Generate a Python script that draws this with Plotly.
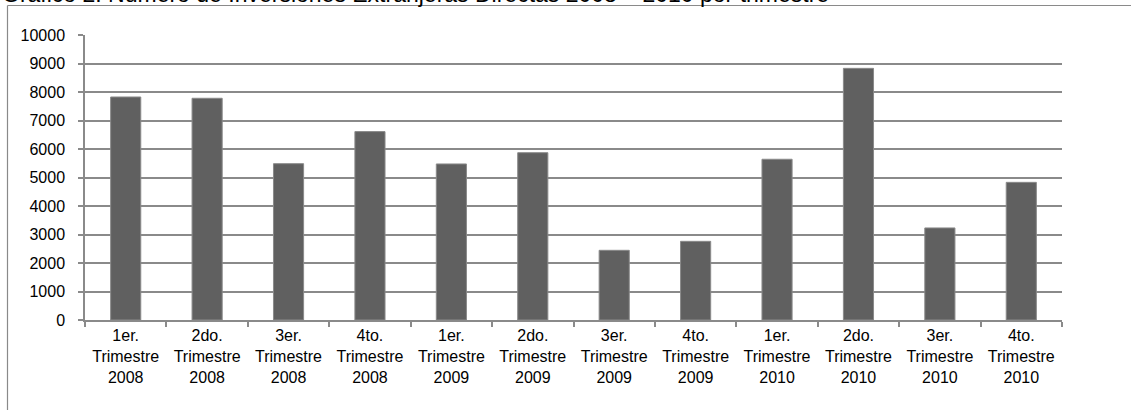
import plotly.graph_objects as go

categories = [
    "1er.<br>Trimestre<br>2008", "2do.<br>Trimestre<br>2008", "3er.<br>Trimestre<br>2008", "4to.<br>Trimestre<br>2008",
    "1er.<br>Trimestre<br>2009", "2do.<br>Trimestre<br>2009", "3er.<br>Trimestre<br>2009", "4to.<br>Trimestre<br>2009",
    "1er.<br>Trimestre<br>2010", "2do.<br>Trimestre<br>2010", "3er.<br>Trimestre<br>2010", "4to.<br>Trimestre<br>2010",
]
values = [7825, 7780, 5485, 6610, 5475, 5870, 2445, 2760, 5640, 8830, 3230, 4830]
y_ticks = list(range(0, 10001, 1000))
title_text = "Gráfico 2. Número de Inversiones Extranjeras Directas 2008 – 2010 por trimestre"

W, H = 1131, 410
L, R, T, B = 85, 1062, 35, 320

def px(x):
    return (x - L) / (R - L)

def py(y):
    return (B - y) / (B - T)

font = dict(family="Liberation Sans, Arial, sans-serif", color="#000000")

fig = go.Figure(go.Bar(
    x=categories, y=values,
    marker=dict(color="#606060", line=dict(color="#8a8a8a", width=1)),
    width=0.37,
))

box_color = "#8a8a8a"
fig.update_layout(
    width=W, height=H,
    margin=dict(l=L, r=W - R, t=T, b=H - B, pad=0),
    paper_bgcolor="white", plot_bgcolor="white",
    showlegend=False,
    bargap=0.63,
    font=dict(size=15, **font),
    xaxis=dict(
        type="category", tickson="boundaries", ticks="outside", ticklen=5,
        tickcolor="#8a8a8a", tickwidth=1.5, showline=True, linecolor="#8a8a8a", linewidth=1.5,
        showgrid=False, tickfont=dict(size=16, **font), tickangle=0,
    ),
    yaxis=dict(
        range=[0, 10000], tickvals=y_ticks, ticktext=[str(v) for v in y_ticks],
        ticks="outside", ticklen=5, tickcolor="#8a8a8a", tickwidth=1.5,
        showline=True, linecolor="#8a8a8a", linewidth=1.5,
        showgrid=True, gridcolor="#8a8a8a", gridwidth=1.5, zeroline=False,
        tickfont=dict(size=16, **font), ticklabelstandoff=10,
    ),
    shapes=[
        dict(type="line", xref="paper", yref="paper",
             x0=px(7.5), x1=px(1131), y0=py(5.5), y1=py(5.5),
             line=dict(color=box_color, width=1.2)),
        dict(type="line", xref="paper", yref="paper",
             x0=px(7.5), x1=px(7.5), y0=py(5.5), y1=py(410),
             line=dict(color=box_color, width=1.2)),
    ],
    annotations=[dict(
        text=title_text, xref="paper", yref="paper", x=px(0), y=py(9),
        xanchor="left", yanchor="bottom", showarrow=False,
        font=dict(size=23, **font),
    )],
)

fig.write_html("out.html", config={"displayModeBar": False},
               post_script="document.body.style.margin='0';")
